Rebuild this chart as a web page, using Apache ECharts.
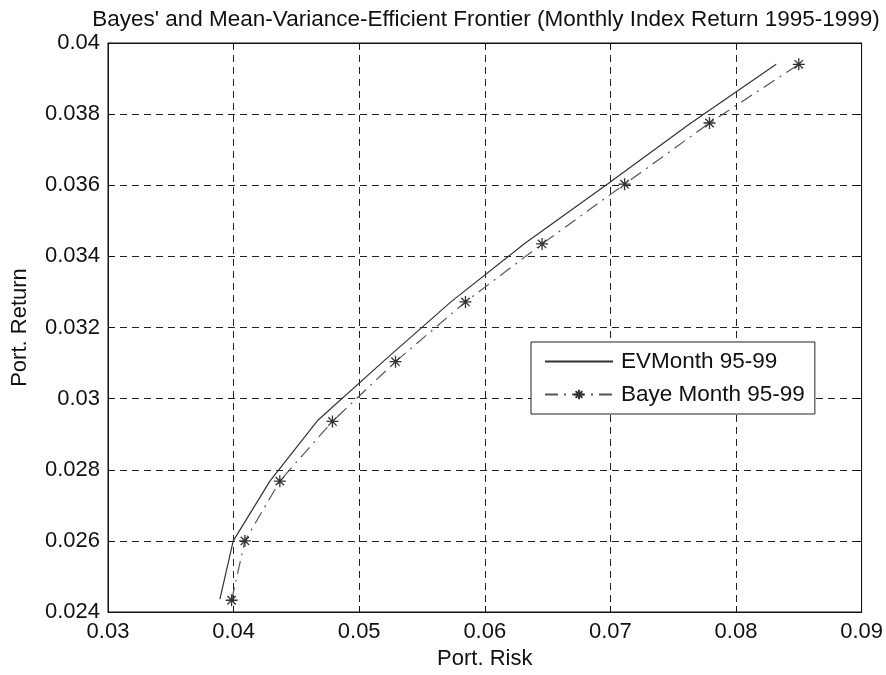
<!DOCTYPE html>
<html>
<head>
<meta charset="utf-8">
<script src="https://cdn.jsdelivr.net/npm/echarts@6/dist/echarts.min.js"></script>
<style>html,body{margin:0;padding:0;background:#fff;}#c{width:886px;height:675px;}</style>
</head>
<body>
<div id="c"></div>
<script>
const xTicks = [0.03, 0.04, 0.05, 0.06, 0.07, 0.08, 0.09];
const yTicks = [0.024, 0.026, 0.028, 0.03, 0.032, 0.034, 0.036, 0.038, 0.04];
const evRisk = [0.03891, 0.03997, 0.04289, 0.04673, 0.0519, 0.0573, 0.0632, 0.0698, 0.0763, 0.0832];
const evReturn = [0.02436, 0.0260, 0.02768, 0.02940, 0.03104, 0.03272, 0.03437, 0.03604, 0.03772, 0.0394];
const bayeRisk = [0.03984, 0.0409, 0.04368, 0.04787, 0.05289, 0.05846, 0.06456, 0.07113, 0.07789, 0.0850];
const bayeReturn = [0.02433, 0.0260, 0.02768, 0.02936, 0.03104, 0.03272, 0.03435, 0.03603, 0.03775, 0.0394];
const seriesNames = ['EVMonth 95-99', 'Baye Month 95-99'];

const FONT = 'Liberation Sans, Arial, sans-serif';
const fmt = v => String(+v.toFixed(4));
const star = 'path://M0,-5L0,5M-5,0L5,0M-3.5,-3.5L3.5,3.5M-3.5,3.5L3.5,-3.5';

const chart = echarts.init(document.getElementById('c'), null, {renderer: 'canvas'});
const gridLine = {show: true, lineStyle: {color: '#222', type: [7, 5], width: 1}};
chart.setOption({
  backgroundColor: '#fff',
  animation: false,
  title: {
    text: "Bayes' and Mean-Variance-Efficient Frontier (Monthly Index Return 1995-1999)",
    left: 481, top: 3, textAlign: 'center',
    textStyle: {fontFamily: FONT, fontSize: 22.5, fontWeight: 'normal', color: '#111'}
  },
  grid: {left: 108, right: 24, top: 43, bottom: 60, show: true, borderColor: '#111', borderWidth: 1},
  legend: {
    left: 531, top: 342, orient: 'vertical',
    backgroundColor: '#fff', borderColor: '#222', borderWidth: 1,
    padding: [8, 10, 8, 13], itemWidth: 68, itemHeight: 12, itemGap: 10,
    textStyle: {fontFamily: FONT, fontSize: 22.5, color: '#111', padding: [0, 0, 0, 3]},
    data: seriesNames
  },
  xAxis: [{
    type: 'value', min: 0.03, max: 0.09, interval: 0.01,
    name: 'Port. Risk', nameLocation: 'middle', nameGap: 36,
    nameTextStyle: {fontFamily: FONT, fontSize: 22, color: '#111'},
    axisLine: {show: true, onZero: false, lineStyle: {color: '#111'}},
    axisTick: {show: true, inside: true, length: 6, lineStyle: {color: '#111'}},
    axisLabel: {fontFamily: FONT, fontSize: 22, color: '#111', margin: 9, formatter: fmt},
    splitLine: gridLine
  }, {
    type: 'value', position: 'top', min: 0.03, max: 0.09, interval: 0.01,
    axisLine: {show: true, lineStyle: {color: '#111'}},
    axisTick: {show: true, inside: true, length: 6, lineStyle: {color: '#111'}},
    axisLabel: {show: false}, splitLine: {show: false}
  }],
  yAxis: [{
    type: 'value', min: 0.024, max: 0.04, interval: 0.002,
    name: 'Port. Return', nameLocation: 'middle', nameGap: 77,
    nameTextStyle: {fontFamily: FONT, fontSize: 22, color: '#111'},
    axisLine: {show: true, onZero: false, lineStyle: {color: '#111'}},
    axisTick: {show: true, inside: true, length: 6, lineStyle: {color: '#111'}},
    axisLabel: {fontFamily: FONT, fontSize: 22, color: '#111', margin: 8, formatter: fmt},
    splitLine: gridLine
  }, {
    type: 'value', position: 'right', min: 0.024, max: 0.04, interval: 0.002,
    axisLine: {show: true, lineStyle: {color: '#111'}},
    axisTick: {show: true, inside: true, length: 6, lineStyle: {color: '#111'}},
    axisLabel: {show: false}, splitLine: {show: false}
  }],
  series: [{
    name: seriesNames[0], type: 'line',
    data: evRisk.map((x, i) => [x, evReturn[i]]),
    symbol: 'circle', showSymbol: false,
    lineStyle: {color: '#333', width: 1.2, type: 'solid'},
    itemStyle: {color: 'transparent', borderColor: 'transparent', borderWidth: 0}
  }, {
    name: seriesNames[1], type: 'line',
    data: bayeRisk.map((x, i) => [x, bayeReturn[i]]),
    symbol: star, symbolSize: 12, showSymbol: true,
    lineStyle: {color: '#555', width: 1.2, type: [13, 6, 2, 6]},
    itemStyle: {color: 'transparent', borderColor: '#333', borderWidth: 1.3}
  }]
});
</script>
</body>
</html>
